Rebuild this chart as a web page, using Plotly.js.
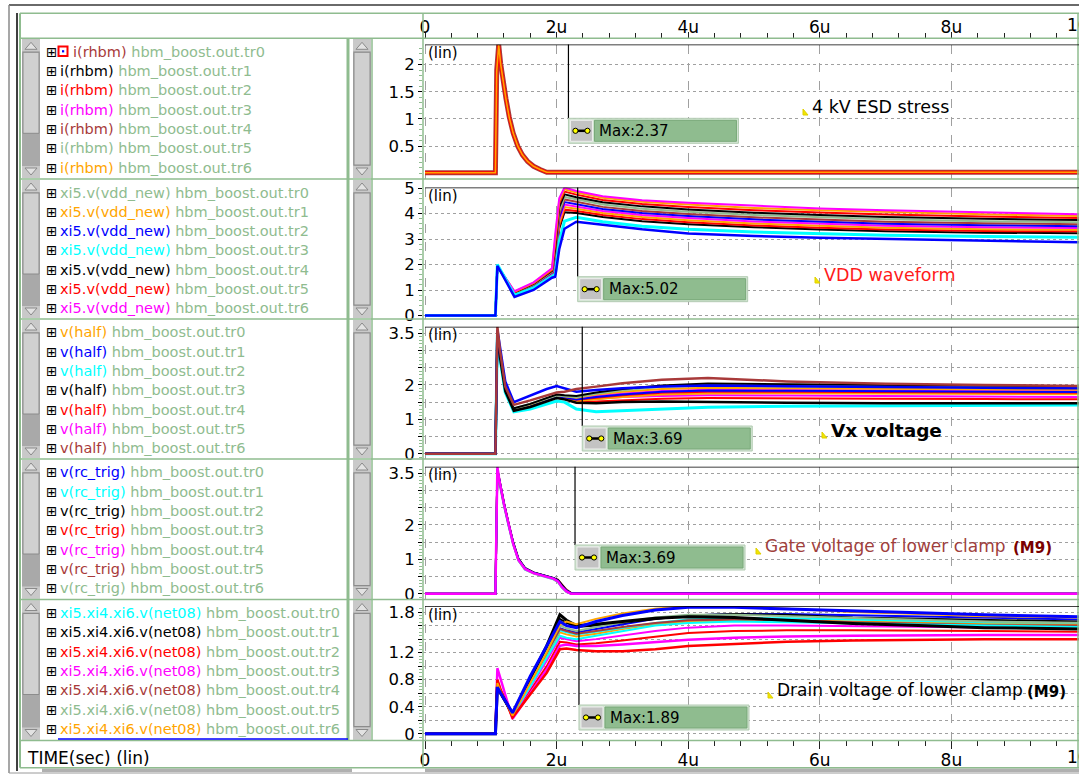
<!DOCTYPE html>
<html>
<head>
<meta charset="utf-8">
<script src="https://cdn.plot.ly/plotly-3.0.1.min.js"></script>
<style>
html,body{margin:0;padding:0;background:#fff;overflow:hidden;}
#chart{width:1079px;height:775px;}
</style>
</head>
<body>
<div id="chart"></div>
<script>
// ---------------- DATA ----------------
const timeTickVals = [0, 2, 4, 6, 8];
const timeTickText = ['0', '2u', '4u', '6u', '8u'];

// Panel 1 : i(rhbm)
const t1 = [0, 1.07, 1.09, 1.12, 1.15, 1.19, 1.23, 1.28, 1.34, 1.41, 1.48, 1.56, 1.65, 1.75, 1.85, 10];
const i_tr0 = [0.01, 0.01, 1.90, 2.37, 2.02, 1.66, 1.38, 1.04, 0.74, 0.50, 0.34, 0.22, 0.13, 0.07, 0.02, 0.02];
const i_tr2 = [0.01, 0.01, 1.86, 2.35, 2.00, 1.65, 1.37, 1.03, 0.73, 0.50, 0.34, 0.22, 0.13, 0.07, 0.02, 0.02];
const i_tr6 = [0.01, 0.01, 1.88, 2.36, 2.01, 1.66, 1.37, 1.03, 0.74, 0.50, 0.34, 0.22, 0.13, 0.07, 0.02, 0.02];

// Panel 2 : xi5.v(vdd_new)
const t2 = [0, 1.07, 1.1, 1.36, 1.65, 1.93, 1.98, 2.04, 2.12, 2.3, 2.7, 3.3, 4, 5, 6, 7, 8.5, 10];
const vdd_a = [0, 0, 1.95, 0.95, 1.30, 1.85, 3.2, 4.6, 5.02, 4.88, 4.68, 4.52, 4.42, 4.30, 4.20, 4.13, 4.04, 3.97];
const vdd_b = [0, 0, 1.95, 0.93, 1.28, 1.82, 3.0, 4.5, 4.95, 4.82, 4.62, 4.46, 4.35, 4.22, 4.13, 4.06, 3.97, 3.90];
const vdd_c = [0, 0, 1.95, 0.91, 1.26, 1.78, 2.8, 4.4, 4.86, 4.74, 4.53, 4.37, 4.26, 4.13, 4.04, 3.96, 3.88, 3.82];
const vdd_d = [0, 0, 1.95, 0.90, 1.24, 1.75, 2.6, 4.25, 4.75, 4.64, 4.44, 4.28, 4.16, 4.03, 3.94, 3.86, 3.79, 3.74];
const vdd_e = [0, 0, 1.95, 0.89, 1.22, 1.72, 2.5, 4.1, 4.65, 4.55, 4.35, 4.19, 4.07, 3.94, 3.85, 3.77, 3.70, 3.66];
const vdd_f = [0, 0, 1.95, 0.88, 1.20, 1.70, 2.4, 3.95, 4.55, 4.46, 4.26, 4.10, 3.98, 3.85, 3.76, 3.68, 3.62, 3.58];
const vdd_g = [0, 0, 1.95, 0.87, 1.19, 1.68, 2.3, 3.85, 4.45, 4.37, 4.18, 4.02, 3.90, 3.77, 3.68, 3.60, 3.54, 3.50];
const vdd_h = [0, 0, 1.95, 0.86, 1.17, 1.66, 2.2, 3.75, 4.35, 4.28, 4.10, 3.94, 3.82, 3.69, 3.60, 3.52, 3.46, 3.43];
const vdd_i = [0, 0, 1.95, 0.85, 1.15, 1.64, 2.1, 3.6, 4.25, 4.19, 4.02, 3.86, 3.74, 3.61, 3.52, 3.44, 3.38, 3.36];
const vdd_j = [0, 0, 1.95, 0.84, 1.14, 1.62, 2.0, 3.5, 4.15, 4.10, 3.94, 3.78, 3.66, 3.53, 3.44, 3.37, 3.31, 3.30];
const vdd_k = [0, 0, 1.95, 0.83, 1.12, 1.60, 1.9, 3.4, 4.05, 4.02, 3.86, 3.70, 3.58, 3.46, 3.37, 3.30, 3.25, 3.22];
const vdd_cyan = [0, 0, 2.0, 0.80, 1.08, 1.55, 1.62, 2.9, 3.70, 3.85, 3.68, 3.50, 3.38, 3.27, 3.20, 3.15, 3.10, 3.07];
const vdd_blue = [0, 0, 1.95, 0.73, 1.00, 1.48, 1.52, 2.6, 3.40, 3.68, 3.56, 3.38, 3.22, 3.12, 3.05, 3.00, 2.94, 2.87];

// Panel 3 : v(half)
const t3 = [0, 1.07, 1.1, 1.14, 1.22, 1.35, 1.6, 1.85, 2.0, 2.12, 2.3, 2.6, 3.0, 3.6, 4.3, 5.5, 7, 8.5, 10];
const half_brown = [0, 0, 3.69, 3.0, 1.95, 1.42, 1.55, 1.70, 1.78, 1.80, 1.88, 1.95, 2.05, 2.15, 2.20, 2.10, 2.03, 2.00, 1.97];
const half_blue = [0, 0, 3.60, 3.1, 2.10, 1.50, 1.70, 1.88, 1.97, 1.90, 1.80, 1.85, 1.90, 1.95, 1.98, 1.96, 1.93, 1.92, 1.90];
const half_sg = [0, 0, 3.50, 2.9, 1.90, 1.30, 1.45, 1.60, 1.70, 1.68, 1.65, 1.75, 1.85, 1.95, 2.00, 1.97, 1.95, 1.93, 1.92];
const half_mag = [0, 0, 3.50, 2.85, 1.85, 1.28, 1.42, 1.58, 1.68, 1.65, 1.60, 1.68, 1.75, 1.82, 1.86, 1.85, 1.84, 1.83, 1.82];
const half_red = [0, 0, 3.50, 2.85, 1.85, 1.27, 1.40, 1.56, 1.66, 1.63, 1.57, 1.63, 1.70, 1.77, 1.80, 1.80, 1.79, 1.78, 1.77];
const half_orange = [0, 0, 3.50, 2.8, 1.82, 1.26, 1.38, 1.54, 1.64, 1.60, 1.53, 1.58, 1.65, 1.72, 1.75, 1.76, 1.75, 1.74, 1.73];
const half_black = [0, 0, 3.55, 2.8, 1.82, 1.25, 1.36, 1.52, 1.62, 1.58, 1.48, 1.47, 1.50, 1.52, 1.50, 1.48, 1.47, 1.47, 1.47];
const half_cyan = [0, 0, 3.45, 2.75, 1.78, 1.22, 1.30, 1.45, 1.53, 1.50, 1.30, 1.22, 1.25, 1.30, 1.35, 1.38, 1.40, 1.41, 1.42];
const half_red2 = [0, 0, 3.50, 2.82, 1.83, 1.26, 1.37, 1.53, 1.63, 1.60, 1.50, 1.52, 1.56, 1.60, 1.62, 1.62, 1.60, 1.59, 1.58];
const half_mag2 = [0, 0, 3.50, 2.82, 1.83, 1.26, 1.38, 1.55, 1.65, 1.62, 1.55, 1.60, 1.65, 1.68, 1.70, 1.69, 1.67, 1.66, 1.65];
const half_black2 = [0, 0, 3.55, 2.9, 1.88, 1.32, 1.45, 1.62, 1.72, 1.70, 1.68, 1.78, 1.88, 1.98, 2.04, 2.02, 2.00, 1.98, 1.96];
const half_orange2 = [0, 0, 3.50, 2.85, 1.86, 1.30, 1.43, 1.60, 1.70, 1.67, 1.63, 1.72, 1.80, 1.88, 1.92, 1.90, 1.88, 1.87, 1.86];
const half_blue2 = [0, 0, 3.50, 2.83, 1.84, 1.28, 1.40, 1.57, 1.67, 1.64, 1.58, 1.65, 1.72, 1.80, 1.84, 1.83, 1.82, 1.80, 1.79];

// Panel 4 : v(rc_trig)
const t4 = [0, 1.07, 1.1, 1.13, 1.2, 1.27, 1.34, 1.42, 1.52, 1.65, 1.8, 1.95, 2.02, 2.08, 2.15, 2.22, 10];
const rc_mag = [0, 0, 3.69, 3.30, 2.60, 2.00, 1.45, 0.98, 0.72, 0.60, 0.52, 0.44, 0.36, 0.20, 0.07, 0, 0];
const rc_blue = [0, 0, 3.60, 3.28, 2.62, 2.03, 1.48, 1.00, 0.74, 0.61, 0.53, 0.45, 0.38, 0.22, 0.09, 0.01, 0];
const rc_cyan = [0, 0, 3.55, 3.25, 2.58, 1.98, 1.44, 0.97, 0.71, 0.60, 0.51, 0.43, 0.35, 0.19, 0.06, 0, 0];
const rc_black = [0, 0, 3.62, 3.30, 2.64, 2.05, 1.50, 1.02, 0.75, 0.62, 0.54, 0.46, 0.40, 0.25, 0.10, 0.02, 0];
const rc_red = [0, 0, 3.58, 3.27, 2.61, 2.02, 1.47, 0.99, 0.73, 0.61, 0.53, 0.45, 0.39, 0.24, 0.10, 0.02, 0];
const rc_brown = [0, 0, 3.60, 3.29, 2.63, 2.04, 1.49, 1.01, 0.74, 0.62, 0.54, 0.47, 0.41, 0.27, 0.12, 0.03, 0];
const rc_sg = [0, 0, 3.50, 3.20, 2.55, 1.97, 1.43, 0.96, 0.70, 0.59, 0.50, 0.42, 0.34, 0.18, 0.05, 0, 0];
const rc_orange = [0, 0, 3.56, 3.26, 2.60, 2.01, 1.46, 0.98, 0.72, 0.60, 0.52, 0.44, 0.37, 0.21, 0.08, 0.01, 0];

// Panel 5 : xi5.xi4.xi6.v(net08)
const t5 = [0, 1.07, 1.1, 1.15, 1.33, 1.6, 1.85, 2.05, 2.15, 2.3, 2.6, 3.0, 3.5, 4.0, 4.7, 5.5, 6.5, 7.5, 8.5, 10];
const net_orange = [0, 0, 0.75, 0.62, 0.27, 0.75, 1.20, 1.62, 1.66, 1.62, 1.70, 1.78, 1.85, 1.89, 1.88, 1.85, 1.80, 1.77, 1.74, 1.72];
const net_blue = [0, 0, 0.69, 0.60, 0.31, 0.85, 1.30, 1.66, 1.60, 1.57, 1.66, 1.75, 1.83, 1.87, 1.87, 1.85, 1.82, 1.79, 1.76, 1.73];
const net_black = [0, 0, 0.70, 0.60, 0.30, 0.82, 1.30, 1.76, 1.68, 1.60, 1.62, 1.66, 1.71, 1.73, 1.72, 1.68, 1.63, 1.60, 1.57, 1.55];
const net_sg = [0, 0, 0.72, 0.60, 0.28, 0.78, 1.22, 1.60, 1.56, 1.52, 1.58, 1.65, 1.72, 1.76, 1.76, 1.74, 1.71, 1.68, 1.66, 1.64];
const net_brown = [0, 0, 0.72, 0.60, 0.28, 0.75, 1.18, 1.55, 1.52, 1.48, 1.52, 1.58, 1.64, 1.68, 1.69, 1.68, 1.65, 1.63, 1.61, 1.60];
const net_cyan = [0, 0, 0.75, 0.62, 0.27, 0.70, 1.12, 1.45, 1.42, 1.40, 1.45, 1.52, 1.60, 1.64, 1.66, 1.65, 1.63, 1.61, 1.60, 1.58];
const net_mag = [0, 0, 0.97, 0.80, 0.22, 0.60, 0.95, 1.30, 1.32, 1.30, 1.30, 1.32, 1.36, 1.39, 1.42, 1.44, 1.45, 1.46, 1.46, 1.46];
const net_red = [0, 0, 0.80, 0.65, 0.24, 0.58, 0.90, 1.25, 1.26, 1.24, 1.22, 1.22, 1.25, 1.30, 1.33, 1.36, 1.38, 1.39, 1.40, 1.40];
const net_black2 = [0, 0, 0.72, 0.60, 0.28, 0.80, 1.25, 1.70, 1.64, 1.58, 1.60, 1.64, 1.70, 1.75, 1.77, 1.76, 1.72, 1.70, 1.68, 1.66];
const net_mag2 = [0, 0, 0.80, 0.65, 0.26, 0.68, 1.08, 1.42, 1.40, 1.37, 1.40, 1.45, 1.52, 1.57, 1.60, 1.60, 1.59, 1.58, 1.57, 1.56];
const net_orange2 = [0, 0, 0.75, 0.62, 0.27, 0.72, 1.15, 1.50, 1.47, 1.44, 1.48, 1.55, 1.62, 1.66, 1.68, 1.68, 1.66, 1.64, 1.63, 1.62];
const net_blue2 = [0, 0, 0.70, 0.60, 0.29, 0.76, 1.20, 1.56, 1.53, 1.50, 1.55, 1.62, 1.70, 1.75, 1.77, 1.77, 1.75, 1.73, 1.71, 1.69];
const net_red2 = [0, 0, 0.78, 0.64, 0.25, 0.64, 1.00, 1.36, 1.35, 1.32, 1.34, 1.38, 1.44, 1.49, 1.52, 1.53, 1.53, 1.52, 1.52, 1.51];
const net_cyan2 = [0, 0, 0.74, 0.60, 0.27, 0.74, 1.17, 1.53, 1.50, 1.47, 1.51, 1.57, 1.64, 1.69, 1.71, 1.71, 1.69, 1.67, 1.65, 1.64];

// Max markers
const maxValues = [2.37, 5.02, 3.69, 3.69, 1.89];
const markerTimes = [2.18, 2.32, 2.39, 2.28, 2.34];

// Legend
const signalNames = ['i(rhbm)', 'xi5.v(vdd_new)', 'v(half)', 'v(rc_trig)', 'xi5.xi4.xi6.v(net08)'];
const runNames = ['hbm_boost.out.tr0', 'hbm_boost.out.tr1', 'hbm_boost.out.tr2', 'hbm_boost.out.tr3',
                  'hbm_boost.out.tr4', 'hbm_boost.out.tr5', 'hbm_boost.out.tr6'];
const noteTexts = ['4 kV ESD stress', 'VDD waveform', 'Vx voltage', 'Gate voltage of lower clamp', 'Drain voltage of lower clamp'];

// ---------------- STYLE / LAYOUT ----------------
const SG = '#8fbc8f', ORANGE = '#ffa500', BLUE = '#0000ff', CYAN = '#00ffff', BLACK = '#000000',
      RED = '#ff0000', MAGENTA = '#ff00ff', BROWN = '#a83a3a';
const legendColors = [
  [BROWN, BLACK, RED, MAGENTA, BROWN, SG, ORANGE],
  [SG, ORANGE, BLUE, CYAN, BLACK, RED, MAGENTA],
  [ORANGE, BLUE, CYAN, BLACK, RED, MAGENTA, BROWN],
  [BLUE, CYAN, BLACK, RED, MAGENTA, BROWN, SG],
  [CYAN, BLACK, RED, MAGENTA, BROWN, SG, ORANGE]
];

const W = 1079, H = 775;
const px = x => x / W;
const py = y => 1 - y / H;
const FONT = 'DejaVu Sans, Verdana, sans-serif';

function tr(x, y, color, width, yaxis) {
  return {type: 'scatter', mode: 'lines', x: x, y: y, xaxis: 'x', yaxis: yaxis,
          line: {color: color, width: width}, hoverinfo: 'skip', showlegend: false};
}

const data = [
  // panel 1
  tr(t1, i_tr0, BROWN, 5, 'y'),
  tr(t1, i_tr2, RED, 3, 'y'),
  tr(t1, i_tr6, ORANGE, 1.6, 'y'),
  // panel 2
  tr(t2, vdd_k, BLACK, 2, 'y2'), tr(t2, vdd_j, RED, 2, 'y2'), tr(t2, vdd_i, ORANGE, 2, 'y2'),
  tr(t2, vdd_h, MAGENTA, 2, 'y2'), tr(t2, vdd_g, BLUE, 2, 'y2'), tr(t2, vdd_f, BROWN, 2, 'y2'),
  tr(t2, vdd_e, SG, 2, 'y2'), tr(t2, vdd_d, BLACK, 2, 'y2'), tr(t2, vdd_c, RED, 2, 'y2'),
  tr(t2, vdd_b, ORANGE, 2, 'y2'), tr(t2, vdd_a, MAGENTA, 2, 'y2'),
  tr(t2, vdd_cyan, CYAN, 3, 'y2'), tr(t2, vdd_blue, BLUE, 2.5, 'y2'),
  // panel 3
  tr(t3, half_mag2, MAGENTA, 2, 'y3'), tr(t3, half_red2, RED, 2, 'y3'), tr(t3, half_orange, ORANGE, 2, 'y3'),
  tr(t3, half_red, RED, 2, 'y3'), tr(t3, half_mag, MAGENTA, 2, 'y3'), tr(t3, half_blue2, BLUE, 2, 'y3'),
  tr(t3, half_orange2, ORANGE, 2, 'y3'), tr(t3, half_sg, SG, 2.5, 'y3'), tr(t3, half_black2, BLACK, 2, 'y3'),
  tr(t3, half_cyan, CYAN, 3, 'y3'), tr(t3, half_black, BLACK, 2.5, 'y3'), tr(t3, half_blue, BLUE, 2.5, 'y3'),
  tr(t3, half_brown, BROWN, 2.5, 'y3'),
  // panel 4
  tr(t4, rc_sg, SG, 2, 'y4'), tr(t4, rc_orange, ORANGE, 2, 'y4'), tr(t4, rc_brown, BROWN, 2, 'y4'),
  tr(t4, rc_red, RED, 2, 'y4'), tr(t4, rc_black, BLACK, 2, 'y4'), tr(t4, rc_cyan, CYAN, 2, 'y4'),
  tr(t4, rc_blue, BLUE, 2, 'y4'), tr(t4, rc_mag, MAGENTA, 2.5, 'y4'),
  // panel 5
  tr(t5, net_red2, RED, 2, 'y5'), tr(t5, net_mag2, MAGENTA, 2, 'y5'), tr(t5, net_orange2, ORANGE, 2, 'y5'),
  tr(t5, net_cyan2, CYAN, 2, 'y5'), tr(t5, net_blue2, BLUE, 2, 'y5'), tr(t5, net_black2, BLACK, 2, 'y5'),
  tr(t5, net_brown, BROWN, 2, 'y5'), tr(t5, net_sg, SG, 2, 'y5'), tr(t5, net_cyan, CYAN, 2, 'y5'),
  tr(t5, net_mag, MAGENTA, 2.5, 'y5'), tr(t5, net_red, RED, 2.5, 'y5'), tr(t5, net_black, BLACK, 3, 'y5'),
  tr(t5, net_orange, ORANGE, 2, 'y5'), tr(t5, net_blue, BLUE, 3, 'y5'),
  // dummy for top axis
  {type: 'scatter', mode: 'lines', x: [0], y: [null], xaxis: 'x2', yaxis: 'y', hoverinfo: 'skip', showlegend: false}
];

// geometry (pixels)
const sepY = [38.3, 179, 319, 459, 599.5, 740.5];
const plotTop = [44.5, 187.5, 326.7, 466.7, 606];
const plotBot = [178.5, 318.5, 458.5, 598.5, 740];
const yMin = [-0.095, -0.118, -0.137, -0.137, -0.092];
const boxTop = [118.3, 276.7, 426, 545, 705];
const xLeftPx = 423, xZeroPx = 425, pxPerU = 65.8;
const xRange = [(xLeftPx - xZeroPx) / pxPerU, (W - xZeroPx) / pxPerU];

const gridCol = '#a0a0a0';
const tickFont = {family: FONT, size: 16.5, color: '#000'};
function yax(k, tickvals, ticktext, minorDt) {
  return {
    domain: [py(plotBot[k]), py(plotTop[k])], range: [yMin[k], maxValues[k]], anchor: 'x',
    tickmode: 'array', tickvals: tickvals, ticktext: ticktext, ticks: 'outside', ticklen: 4,
    tickcolor: '#000', tickfont: tickFont, showgrid: true, gridcolor: gridCol, griddash: 'dot',
    gridwidth: 1, zeroline: false, showline: false, fixedrange: true,
    minor: {dtick: minorDt, tick0: 0, ticks: 'outside', ticklen: 3, tickcolor: SG, showgrid: false}
  };
}

const layout = {
  width: W, height: H, margin: {l: 0, r: 0, t: 0, b: 0},
  paper_bgcolor: '#fff', plot_bgcolor: '#fff', showlegend: false,
  font: {family: FONT},
  xaxis: {
    domain: [px(xLeftPx), 1], range: xRange, anchor: 'y5', side: 'bottom',
    tickmode: 'array', tickvals: timeTickVals, ticktext: timeTickText,
    ticks: 'outside', ticklen: 8, tickcolor: '#222', tickfont: {family: FONT, size: 17, color: '#000'},
    ticklabelstandoff: -3,
    showgrid: true, gridcolor: gridCol, griddash: 'dash', gridwidth: 1, zeroline: false, showline: false,
    minor: {dtick: 0.4, tick0: 0, ticks: 'outside', ticklen: 5, tickcolor: '#222', showgrid: false},
    fixedrange: true
  },
  xaxis2: {
    overlaying: 'x', anchor: 'free', position: py(sepY[0]), side: 'top',
    domain: [px(xLeftPx), 1], range: xRange,
    tickmode: 'array', tickvals: timeTickVals, ticktext: timeTickText,
    ticks: 'outside', ticklen: 6, tickcolor: '#222', tickfont: {family: FONT, size: 17, color: '#000'},
    ticklabelstandoff: -7,
    showgrid: false, zeroline: false, showline: false,
    minor: {dtick: 0.4, tick0: 0, ticks: 'outside', ticklen: 5, tickcolor: '#222', showgrid: false},
    fixedrange: true
  },
  yaxis: yax(0, [0.5, 1, 1.5, 2], ['0.5', '1', '1.5', '2'], 0.1),
  yaxis2: yax(1, [0, 1, 2, 3, 4, 5], ['0', '1', '2', '3', '4', '5'], 0.2),
  yaxis3: yax(2, [0, 0.5, 1, 1.5, 2, 2.5, 3, 3.5], ['0', '', '1', '', '2', '', '', '3.5'], 0.1),
  yaxis4: yax(3, [0, 0.5, 1, 1.5, 2, 2.5, 3, 3.5], ['0', '', '1', '', '2', '', '', '3.5'], 0.1),
  yaxis5: yax(4, [0, 0.2, 0.4, 0.6, 0.8, 1.0, 1.2, 1.4, 1.6, 1.8], ['0', '', '0.4', '', '0.8', '', '1.2', '', '', '1.8'], 0.05),
  shapes: [],
  annotations: []
};

const shapes = layout.shapes, ann = layout.annotations;
function pline(x0, y0, x1, y1, color, width) {
  shapes.push({type: 'line', xref: 'paper', yref: 'paper', x0: px(x0), y0: py(y0), x1: px(x1), y1: py(y1),
               line: {color: color, width: width}});
}
function prect(x0, y0, x1, y1, fill, lineCol, lw) {
  shapes.push({type: 'rect', xref: 'paper', yref: 'paper', x0: px(x0), y0: py(y0), x1: px(x1), y1: py(y1),
               fillcolor: fill, line: {color: lineCol || fill, width: lw === undefined ? 0 : lw}});
}
function ppath(pts, fill, lineCol) {
  const d = 'M ' + pts.map(p => px(p[0]) + ',' + py(p[1])).join(' L ') + ' Z';
  shapes.push({type: 'path', xref: 'paper', yref: 'paper', path: d, fillcolor: fill,
               line: {color: lineCol, width: 1}});
}
function text(x, y, t, size, color, opts) {
  ann.push(Object.assign({xref: 'paper', yref: 'paper', x: px(x), y: py(y), text: t, showarrow: false,
    xanchor: 'left', yanchor: 'middle', font: {family: FONT, size: size, color: color}}, opts || {}));
}

// outer frame
pline(9, 5, W, 5, '#6a6a6a', 2);
pline(9, 5, 9, 773, '#8a8a8a', 1.5);
pline(17, 13, 17, 771, '#000', 1.5);
pline(9, 773, W, 773, '#9a9a9a', 1);
// scrollbars (vertical) per panel
for (let k = 0; k < 5; k++) {
  const s = sepY[k] + 1, b = sepY[k + 1] - 1;
  [[22, 40, s + 94], [353, 371, b - 13]].forEach(function (sb) {
    const x0 = sb[0], x1 = sb[1], cx = (x0 + x1) / 2;
    prect(x0, s, x1, b, '#a9a9a9');
    prect(x0, s, x1, s + 12, '#c9c9c9');
    ppath([[cx - 6, s + 10], [cx, s + 3], [cx + 6, s + 10]], '#e2e2e2', '#8a8a8a');
    prect(x0, b - 12, x1, b, '#c9c9c9');
    ppath([[cx - 6, b - 10], [cx, b - 3], [cx + 6, b - 10]], '#e2e2e2', '#8a8a8a');
    prect(x0 + 1, s + 13, x1 - 1, sb[2], '#d0d0d0', '#8c8c8c', 1);
  });
}
// bottom horizontal scrollbars
prect(42, 768.5, 352, 772, '#b0b0b0');
prect(425, 768.5, W, 772, '#b0b0b0');
// green frame lines
[13.3, 38.3, 179, 319, 459, 599.5, 740.5, 767.7].forEach(y => pline(20, y, W, y, SG, 1.5));
pline(20, 13.3, 20, 767.7, SG, 2);
pline(348, 38.3, 348, 740.5, SG, 3);
pline(372, 38.3, 372, 740.5, SG, 1.5);
pline(xLeftPx, 13.3, xLeftPx, 767.7, SG, 1.5);
pline(W - 1, 13.3, W - 1, 767.7, SG, 1.5);
// blue underline under last legend row
pline(58, 739, 348, 739, BLUE, 1.5);
// red selection icon on first row
prect(58.5, 46.5, 67.5, 56, '#fff', '#ff0000', 2);
prect(62, 50.2, 64.2, 52.4, BLUE);

// legend rows
for (let k = 0; k < 5; k++) {
  for (let i = 0; i < 7; i++) {
    const y = sepY[k] + 13.5 + 19.3 * i;
    text(43.5, y, '\u229e', 13.5, '#000');
    const x0 = (k === 0 && i === 0) ? 71 : 58;
    text(x0, y, '<span style="color:' + legendColors[k][i] + '">' + signalNames[k] + '</span> ' +
                '<span style="color:' + SG + '">' + runNames[i] + '</span>', 14.5, SG);
  }
}
text(25, 758, 'TIME(sec) (lin)', 17, '#000');
// partial 10u labels (cut by the window edge, as in the original)
text(1083, 25, '10u', 17, '#000', {xanchor: 'center'});
text(1083, 757, '10u', 17, '#000', {xanchor: 'center'});

// per-panel decorations
const notePos = [[810, 107], [822, 275], [829, 430], [763, 546], [775, 690]];
const noteStyle = [
  {size: 17.5, color: '#000'}, {size: 17.5, color: '#ff1a1a'}, {size: 18.5, color: '#000', bold: true},
  {size: 17, color: '#a0403c'}, {size: 17, color: '#000'}
];
for (let k = 0; k < 5; k++) {
  const ya = k === 0 ? 'y' : 'y' + (k + 1);
  // top max line
  shapes.push({type: 'line', xref: 'paper', yref: ya, x0: px(xZeroPx), x1: 1, y0: maxValues[k], y1: maxValues[k],
               line: {color: '#000', width: 1.5}});
  // vertical marker line
  shapes.push({type: 'line', xref: 'x', yref: 'paper', x0: markerTimes[k], x1: markerTimes[k],
               y0: py(boxTop[k]), y1: py(plotTop[k]), line: {color: '#000', width: 1.2}});
  // label box
  const bt = boxTop[k];
  const boxShape = (xa, xb, ya0, yb, fill, lc, lw) => shapes.push({
    type: 'rect', xref: 'x', xsizemode: 'pixel', xanchor: markerTimes[k], x0: xa, x1: xb,
    yref: 'paper', y0: py(ya0), y1: py(yb), fillcolor: fill, line: {color: lc, width: lw}});
  boxShape(0, 170, bt, bt + 25, '#d3e5d3', '#b2cbb2', 1);
  boxShape(2, 24, bt + 2, bt + 23, '#c3c3c3', '#eeeeee', 1);
  boxShape(26, 168, bt + 2, bt + 23, SG, '#78a878', 1);
  shapes.push({type: 'line', xref: 'x', xsizemode: 'pixel', xanchor: markerTimes[k], x0: 7, x1: 19,
               yref: 'paper', y0: py(bt + 12.5), y1: py(bt + 12.5), line: {color: '#000', width: 2.5}});
  [7, 19].forEach(cx => boxShape(cx - 2.6, cx + 2.6, bt + 9.9, bt + 15.1, '#ffff00', '#000', 1));
  shapes[shapes.length - 1].type = 'circle';
  shapes[shapes.length - 2].type = 'circle';
  ann.push({xref: 'x', x: markerTimes[k], xshift: 29, yref: 'paper', y: py(bt + 12.5), xanchor: 'left',
            yanchor: 'middle', showarrow: false, text: 'Max:' + maxValues[k].toFixed(2),
            font: {family: FONT, size: 15, color: '#000'}});
  // (lin)
  text(426, plotTop[k] + 8.5, '(lin)', 15, '#000');
  // note
  const ns = noteStyle[k];
  text(notePos[k][0], notePos[k][1], ns.bold ? '<b>' + noteTexts[k] + '</b>' : noteTexts[k], ns.size, ns.color);
  // yellow note marker
  const mx = notePos[k][0] - 4, my = notePos[k][1] + 5;
  ppath([[mx - 3, my - 3], [mx + 2, my + 3], [mx - 3, my + 3]], '#f2e600', '#e0d000');
}
text(1011, 548, '<b>(M9)</b>', 15, '#7a0000');
text(1025, 692, '<b>(M9)</b>', 15, '#000');

Plotly.newPlot('chart', data, layout, {staticPlot: true, displayModeBar: false});
</script>
</body>
</html>
